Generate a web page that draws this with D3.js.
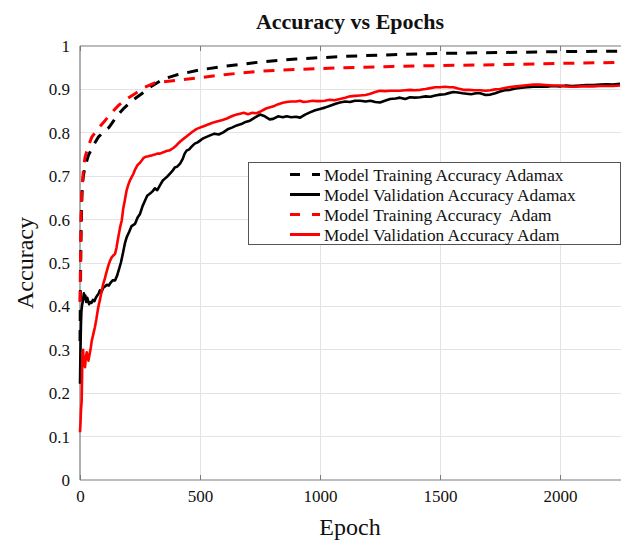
<!DOCTYPE html>
<html>
<head>
<meta charset="utf-8">
<script src="https://cdn.jsdelivr.net/npm/d3@7"></script>
<style>
  html, body { margin: 0; padding: 0; background: #fff; }
  svg { display: block; font-family: "Liberation Serif", "Times New Roman", serif; }
</style>
</head>
<body>
<svg id="chart" width="621" height="540"></svg>
<script>
// Training accuracy curves (smooth)
const trainAdamaxEpochs = [0, 2, 4, 6, 8, 10, 14, 20, 35, 55, 76, 100, 120, 132, 155, 180, 220, 257, 300, 347, 400, 500, 600, 750, 900, 1100, 1300, 1500, 1750, 2000, 2250];
const trainAdamaxAcc    = [0.32, 0.45, 0.55, 0.61, 0.65, 0.68, 0.70, 0.72, 0.748, 0.77, 0.79, 0.803, 0.812, 0.821, 0.84, 0.855, 0.875, 0.89, 0.908, 0.924, 0.933, 0.945, 0.953, 0.963, 0.97, 0.976, 0.98, 0.983, 0.985, 0.987, 0.988];

const trainAdamEpochs = [0, 2, 4, 7, 10, 15, 21, 35, 49, 75, 104, 130, 160, 195, 229, 270, 312, 400, 500, 600, 750, 900, 1100, 1300, 1500, 1750, 2000, 2250];
const trainAdamAcc    = [0.41, 0.5, 0.6, 0.66, 0.683, 0.72, 0.744, 0.77, 0.79, 0.81, 0.828, 0.845, 0.863, 0.878, 0.89, 0.905, 0.915, 0.921, 0.927, 0.934, 0.942, 0.946, 0.95, 0.953, 0.955, 0.957, 0.96, 0.962];

// Validation accuracy curves (noisy)
const valAdamaxEpochs = [0, 2, 4, 6, 8, 10, 13, 16, 19, 22, 26, 30, 34, 38, 42, 48, 54, 60, 66, 72, 78, 83, 90, 97, 104, 112, 120, 128, 136, 146, 154, 162, 170, 178, 187, 195, 205, 215, 229, 240, 250, 260, 271, 280, 292, 302, 312, 322, 333, 345, 355, 365, 375, 385, 395, 405, 417, 428, 436, 444, 455, 465, 478, 490, 500, 512, 525, 542, 560, 578, 597, 615, 633, 653, 672, 690, 708, 728, 750, 770, 790, 805, 825, 845, 861, 880, 900, 917, 938, 958, 980, 1000, 1020, 1045, 1065, 1083, 1105, 1125, 1145, 1167, 1190, 1210, 1230, 1250, 1270, 1292, 1315, 1333, 1355, 1375, 1395, 1417, 1440, 1460, 1480, 1500, 1520, 1540, 1556, 1575, 1595, 1611, 1630, 1650, 1667, 1690, 1710, 1730, 1750, 1770, 1792, 1815, 1840, 1861, 1890, 1917, 1945, 1970, 2000, 2025, 2050, 2083, 2110, 2140, 2167, 2195, 2220, 2250];
const valAdamaxAcc    = [0.222, 0.30, 0.36, 0.39, 0.40, 0.407, 0.415, 0.43, 0.418, 0.425, 0.41, 0.42, 0.412, 0.405, 0.41, 0.408, 0.415, 0.412, 0.42, 0.425, 0.43, 0.437, 0.434, 0.443, 0.446, 0.45, 0.448, 0.455, 0.46, 0.46, 0.47, 0.485, 0.50, 0.52, 0.545, 0.56, 0.572, 0.585, 0.59, 0.605, 0.613, 0.63, 0.644, 0.655, 0.66, 0.665, 0.672, 0.668, 0.679, 0.69, 0.695, 0.70, 0.706, 0.712, 0.72, 0.722, 0.729, 0.74, 0.752, 0.759, 0.762, 0.768, 0.775, 0.778, 0.782, 0.787, 0.79, 0.794, 0.798, 0.796, 0.801, 0.808, 0.812, 0.817, 0.82, 0.825, 0.828, 0.835, 0.842, 0.838, 0.831, 0.832, 0.838, 0.836, 0.838, 0.836, 0.837, 0.835, 0.842, 0.847, 0.852, 0.855, 0.858, 0.863, 0.867, 0.87, 0.872, 0.871, 0.874, 0.874, 0.872, 0.874, 0.871, 0.87, 0.874, 0.878, 0.879, 0.881, 0.878, 0.882, 0.881, 0.882, 0.884, 0.883, 0.886, 0.888, 0.889, 0.892, 0.894, 0.893, 0.891, 0.89, 0.889, 0.891, 0.891, 0.887, 0.888, 0.891, 0.895, 0.898, 0.899, 0.902, 0.904, 0.905, 0.906, 0.907, 0.906, 0.908, 0.907, 0.909, 0.908, 0.909, 0.910, 0.910, 0.911, 0.912, 0.911, 0.913];

const valAdamEpochs = [0, 2, 4, 7, 9, 10, 13, 16, 19, 21, 24, 28, 32, 35, 40, 45, 49, 55, 62, 68, 76, 83, 90, 97, 104, 111, 118, 125, 132, 140, 146, 152, 158, 163, 167, 174, 180, 187, 194, 201, 208, 215, 222, 230, 240, 250, 257, 265, 275, 285, 292, 300, 312, 322, 333, 347, 360, 375, 389, 400, 410, 420, 431, 445, 458, 470, 486, 500, 515, 528, 542, 556, 570, 583, 597, 612, 627, 640, 653, 667, 682, 700, 718, 736, 755, 775, 792, 810, 826, 845, 861, 880, 900, 917, 931, 950, 970, 985, 1000, 1020, 1040, 1060, 1083, 1105, 1125, 1145, 1167, 1190, 1210, 1230, 1250, 1270, 1292, 1315, 1333, 1355, 1375, 1395, 1417, 1440, 1460, 1480, 1500, 1520, 1540, 1556, 1575, 1597, 1620, 1645, 1667, 1690, 1710, 1730, 1750, 1775, 1800, 1819, 1850, 1870, 1889, 1915, 1940, 1970, 2000, 2020, 2042, 2065, 2090, 2115, 2139, 2165, 2190, 2220, 2250];
const valAdamAcc    = [0.11, 0.13, 0.16, 0.183, 0.25, 0.29, 0.30, 0.27, 0.265, 0.26, 0.28, 0.294, 0.285, 0.275, 0.29, 0.305, 0.321, 0.335, 0.352, 0.37, 0.398, 0.415, 0.435, 0.452, 0.465, 0.48, 0.494, 0.505, 0.513, 0.518, 0.521, 0.535, 0.555, 0.57, 0.582, 0.598, 0.625, 0.645, 0.667, 0.68, 0.69, 0.698, 0.705, 0.716, 0.726, 0.731, 0.736, 0.742, 0.745, 0.746, 0.747, 0.748, 0.75, 0.752, 0.752, 0.755, 0.758, 0.76, 0.765, 0.77, 0.776, 0.781, 0.786, 0.792, 0.798, 0.803, 0.809, 0.812, 0.815, 0.818, 0.821, 0.824, 0.826, 0.828, 0.83, 0.833, 0.837, 0.84, 0.842, 0.844, 0.846, 0.843, 0.846, 0.845, 0.85, 0.856, 0.859, 0.862, 0.866, 0.869, 0.871, 0.872, 0.872, 0.874, 0.871, 0.872, 0.874, 0.873, 0.873, 0.874, 0.876, 0.875, 0.878, 0.881, 0.884, 0.885, 0.886, 0.887, 0.89, 0.894, 0.897, 0.896, 0.897, 0.897, 0.897, 0.898, 0.899, 0.898, 0.899, 0.901, 0.903, 0.905, 0.905, 0.906, 0.905, 0.905, 0.902, 0.899, 0.899, 0.898, 0.898, 0.897, 0.898, 0.9, 0.901, 0.904, 0.906, 0.907, 0.909, 0.91, 0.911, 0.911, 0.91, 0.909, 0.909, 0.907, 0.906, 0.906, 0.907, 0.907, 0.907, 0.908, 0.908, 0.908, 0.909];

const xTicks = [0, 500, 1000, 1500, 2000];
const yTicks = [0, 0.1, 0.2, 0.3, 0.4, 0.5, 0.6, 0.7, 0.8, 0.9, 1];

const legendLabels = [
  "Model Training Accuracy Adamax",
  "Model Validation Accuracy Adamax",
  "Model Training Accuracy  Adam",
  "Model Validation Accuracy Adam"
];

const series = [
  { epochs: trainAdamaxEpochs, acc: trainAdamaxAcc, color: "#000", dash: "11,9", width: 3 },
  { epochs: valAdamaxEpochs,   acc: valAdamaxAcc,   color: "#000", dash: null,   width: 2.6 },
  { epochs: trainAdamEpochs,   acc: trainAdamAcc,   color: "#ff0000", dash: "11,9", width: 3 },
  { epochs: valAdamEpochs,     acc: valAdamAcc,     color: "#ff0000", dash: null,   width: 2.6 }
];

const svg = d3.select("#chart");
const W = 621;
const plotLeft = 80, plotTop = 46, plotBottom = 480;

const x = d3.scaleLinear().domain([0, 2254]).range([plotLeft, W]);
const y = d3.scaleLinear().domain([0, 1]).range([plotBottom, plotTop]);

// grid
const grid = svg.append("g");
grid.selectAll("line.gx").data(xTicks.filter(d => d > 0)).join("line")
  .attr("x1", d => x(d)).attr("x2", d => x(d))
  .attr("y1", y(0)).attr("y2", y(1))
  .attr("stroke", "#e3e3e3").attr("stroke-width", 1).attr("shape-rendering", "crispEdges");
grid.selectAll("line.gy").data(yTicks.filter(d => d > 0 && d < 1)).join("line")
  .attr("x1", x(0)).attr("x2", W)
  .attr("y1", d => y(d)).attr("y2", d => y(d))
  .attr("stroke", "#e3e3e3").attr("stroke-width", 1).attr("shape-rendering", "crispEdges");

// axes
const axisColor = "#7a7a7a";
const xAxis = svg.append("g").attr("transform", `translate(0,${y(0)})`)
  .call(d3.axisBottom(x).tickValues(xTicks).tickSize(-5).tickPadding(10).tickFormat(d3.format("d")));
const xAxisTop = svg.append("g").attr("transform", `translate(0,${y(1)})`)
  .call(d3.axisTop(x).tickValues(xTicks).tickSize(-5).tickFormat(""));
const yAxis = svg.append("g").attr("transform", `translate(${x(0)},0)`)
  .call(d3.axisLeft(y).tickValues(yTicks).tickSize(0).tickPadding(10).tickFormat(d => d === 0 || d === 1 ? String(d) : d3.format(".1f")(d)));

[xAxis, xAxisTop, yAxis].forEach(g => {
  g.select(".domain").attr("stroke", axisColor).attr("stroke-width", 1.2);
  g.selectAll(".tick line").attr("stroke", axisColor);
  g.selectAll(".tick text").attr("fill", "#111").attr("font-size", 17)
    .attr("font-family", "'Liberation Serif', 'Times New Roman', serif");
});
xAxis.select(".domain").attr("d", `M${x(0)},0H${W}`);
xAxisTop.select(".domain").attr("d", `M${x(0)},0H${W}`);
yAxis.select(".domain").attr("d", `M0,${y(0)}V${y(1)}`);

// curves
const plot = svg.append("g");
const line = d3.line().x(d => x(d[0])).y(d => y(d[1])).curve(d3.curveLinear);
series.forEach(s => {
  const pts = s.epochs.map((e, i) => [e, s.acc[i]]);
  plot.append("path")
    .datum(pts)
    .attr("d", line)
    .attr("fill", "none")
    .attr("stroke", s.color)
    .attr("stroke-width", s.width)
    .attr("stroke-linejoin", "round")
    .attr("stroke-dasharray", s.dash);
});

// legend
const legend = svg.append("g");
legend.append("rect")
  .attr("x", 248.5).attr("y", 162.5).attr("width", 372).attr("height", 82)
  .attr("fill", "#fff").attr("stroke", "#555").attr("stroke-width", 1);
legendLabels.forEach((lab, i) => {
  const s = series[i];
  const ly = 174.5 + i * 20;
  legend.append("line")
    .attr("x1", 290).attr("x2", 320).attr("y1", ly).attr("y2", ly)
    .attr("stroke", s.color).attr("stroke-width", 3)
    .attr("stroke-dasharray", s.dash ? "10,12" : null);
  legend.append("text")
    .attr("x", 324).attr("y", ly).attr("dy", "0.35em")
    .attr("font-size", 17.3).attr("fill", "#111")
    .style("white-space", "pre")
    .text(lab);
});

// titles
svg.append("text").attr("x", 350).attr("y", 29).attr("text-anchor", "middle")
  .attr("font-size", 22).attr("font-weight", "bold").attr("fill", "#111")
  .text("Accuracy vs Epochs");
svg.append("text").attr("x", 350).attr("y", 535).attr("text-anchor", "middle")
  .attr("font-size", 24).attr("fill", "#111")
  .text("Epoch");
svg.append("text").attr("transform", `translate(33,${(y(0) + y(1)) / 2}) rotate(-90)`)
  .attr("text-anchor", "middle")
  .attr("font-size", 24).attr("fill", "#111")
  .text("Accuracy");
</script>
</body>
</html>
